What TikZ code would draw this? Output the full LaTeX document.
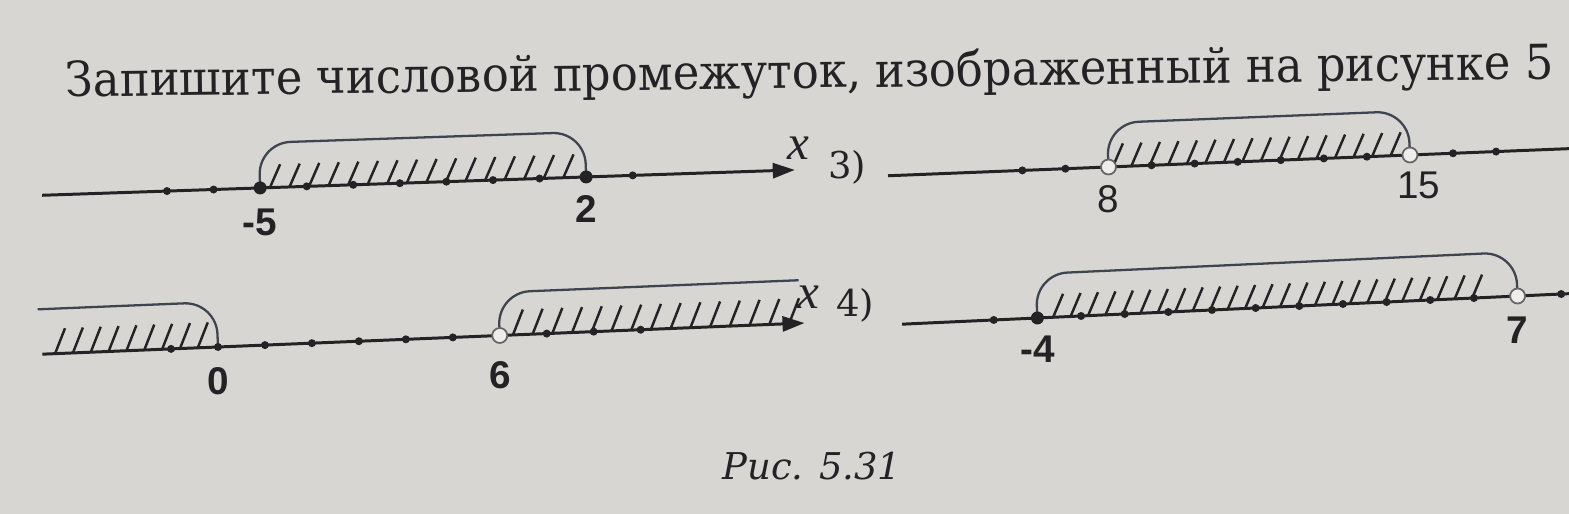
\documentclass[tikz,border=0pt]{standalone}
\usepackage{fontspec}
\setmainfont{DejaVu Serif}
\newfontfamily\numfont{Liberation Sans}
\newfontfamily\varfont{Liberation Serif}
\usetikzlibrary{arrows.meta,positioning}
\definecolor{paper}{RGB}{216,214,211}
\definecolor{ink}{RGB}{35,35,38}
\definecolor{capline}{RGB}{62,68,80}
\definecolor{holefill}{RGB}{238,237,235}

\tikzset{
  axis/.style={ink, line width=0.85pt},
  axisarrow/.style={axis, -{Triangle[length=0.22cm,width=0.15cm]}},
  hatch/.style={ink, line width=0.7pt},
  hatchcap/.style={capline, line width=0.65pt, rounded corners=0.32cm},
  hole/.style={ink!70, fill=holefill, line width=0.5pt},
  numlab/.style={font=\numfont\bfseries\fontsize{11}{12}\selectfont, text=ink, inner sep=0pt},
  thinlab/.style={font=\numfont\fontsize{11}{12}\selectfont, text=ink, inner sep=0pt},
  xlab/.style={font=\varfont\itshape\fontsize{14}{16}\selectfont, text=ink, inner sep=0pt},
  itemlab/.style={font=\fontsize{10.5}{12}\selectfont, text=ink, inner sep=0pt}
}

\begin{document}
\begin{tikzpicture}
    \useasboundingbox (0,0) rectangle (15.69,-5.14);
    \clip (0,0) rectangle (15.69,-5.14);
    \fill[paper] (0,0) rectangle (15.69,-5.14);

    % -- task text and caption --
    \node[anchor=base west, rotate=0.7, xscale=0.93, font=\fontsize{13.7}{16}\selectfont, text=ink, inner sep=0pt]
        (title) at (0.65,-0.97) {Запишите числовой промежуток, изображенный на рисунке 5};
    \node[font=\itshape\fontsize{10.5}{12}\selectfont, text=ink] (caption) at (8.12,-4.66) {Рис. 5.31};

    % -- first line: [-5; 2] --
    \begin{scope}[shift={(4.93,-1.801)}, rotate=1.93, x=0.466cm]
        \foreach \s in {-4.79,-4.37,...,1.6}
            \draw[hatch] (\s,0) -- ++(0.11cm,0.23cm);
        \draw[hatchcap] (-5,0) -- (-5,0.45) -- (2,0.45) -- (2,0);
        \draw[axisarrow] (-9.68,0) -- (6.48,0);
        \foreach \v in {-7,-6,-4,-3,-2,-1,0,1,3}
            \fill[ink] (\v,0) circle (0.04cm);
        \fill[ink] (-5,0) circle (0.065cm) (2,0) circle (0.065cm);
        \node[numlab, below=0.2cm] (am5) at (-5,0) {-5};
        \node[numlab, below=0.18cm] (a2) at (2,0) {2};
    \end{scope}
    \node[xlab] (xa) at (7.98,-1.48) {x};
    \node[itemlab] (item3) at (8.47,-1.67) {3)};

    % -- 3): (8; 15) --
    \begin{scope}[shift={(7.64,-1.807)}, rotate=2.28, x=0.431cm]
        \foreach \s in {8.1,8.53,...,14.7}
            \draw[hatch] (\s,0) -- ++(0.11cm,0.23cm);
        \draw[hatchcap] (8,0) -- (8,0.44) -- (15,0.44) -- (15,0);
        \draw[axis] (2.88,0) -- (18.8,0);
        \foreach \v in {6,7,9,10,...,14,16,17}
            \fill[ink] (\v,0) circle (0.04cm);
        \draw[hole] (8,0) circle (0.075cm) (15,0) circle (0.075cm);
        \node[thinlab, below=0.18cm] (b8) at (8,0) {8};
        \node[thinlab, below=0.16cm, xshift=0.09cm] (b15) at (15,0) {15};
    \end{scope}

    % -- second line: x <= 0 and x > 6 --
    \begin{scope}[shift={(2.18,-3.47)}, rotate=2.34, x=0.47cm]
        \foreach \s in {-3.47,-3.09,...,-0.4}
            \draw[hatch] (\s,0) -- ++(0.11cm,0.25cm);
        \foreach \s in {6.28,6.7,...,12.3}
            \draw[hatch] (\s,0) -- ++(0.11cm,0.25cm);
        \draw[hatchcap] (-3.8,0.45) -- (0,0.45) -- (0,0);
        \draw[hatchcap] (6,0) -- (6,0.43) -- (12.4,0.43);
        \draw[axisarrow] (-3.74,0) -- (12.49,0);
        \foreach \v in {-1,0,1,2,3,4,5,7,8,9}
            \fill[ink] (\v,0) circle (0.04cm);
        \draw[hole] (6,0) circle (0.075cm);
        \node[numlab, below=0.2cm] (c0) at (0,0) {0};
        \node[numlab, below=0.25cm] (c6) at (6,0) {6};
    \end{scope}
    \node[xlab] (xb) at (8.08,-2.97) {x};
    \node[itemlab] (item4) at (8.55,-3.05) {4)};

    % -- 4): [-4; 7) --
    \begin{scope}[shift={(12.12,-3.10)}, rotate=2.62, x=0.437cm]
        \foreach \s in {-3.64,-3.24,...,6.1}
            \draw[hatch] (\s,0) -- ++(0.11cm,0.23cm);
        \draw[hatchcap] (-4,0) -- (-4,0.44) -- (7,0.44) -- (7,0);
        \draw[axis] (-7.1,0) -- (8.3,0);
        \foreach \v in {-5,-3,-2,...,6,8}
            \fill[ink] (\v,0) circle (0.04cm);
        \fill[ink] (-4,0) circle (0.065cm);
        \draw[hole] (7,0) circle (0.075cm);
        \node[numlab, below=0.17cm] (dm4) at (-4,0) {-4};
        \node[numlab, below=0.2cm] (d7) at (7,0) {7};
    \end{scope}

\end{tikzpicture}
\end{document}
